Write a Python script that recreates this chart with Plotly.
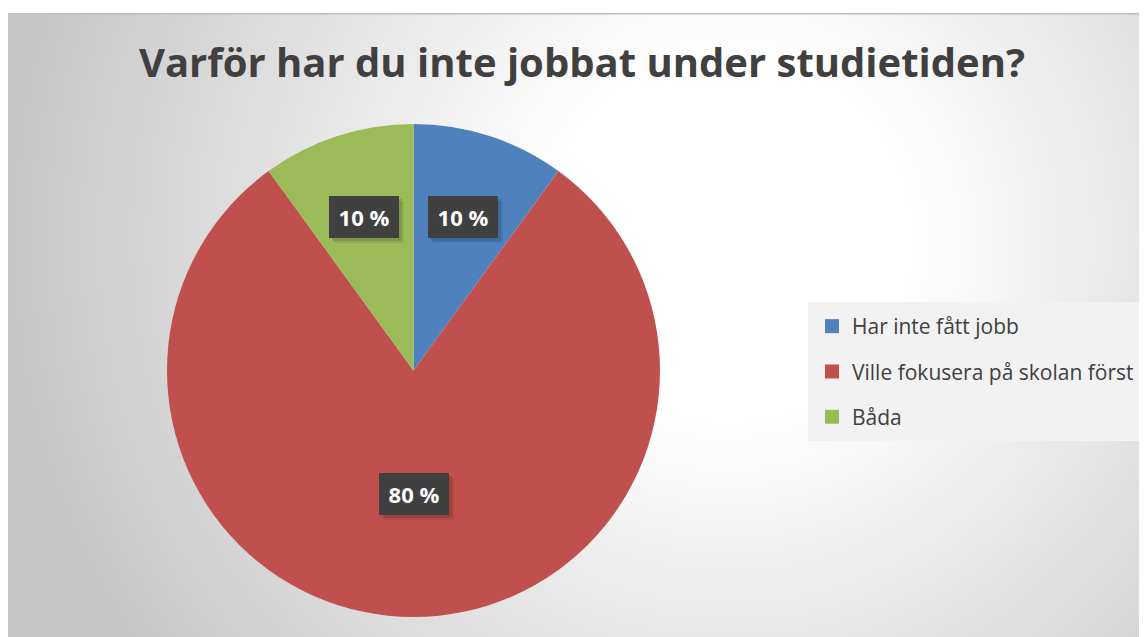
import base64
import math
import plotly.graph_objects as go

# ---- data ----
categories = ["Har inte fått jobb", "Ville fokusera på skolan först", "Båda"]
values = [10, 80, 10]
label_texts = ["10 %", "80 %", "10 %"]

# ---- styles ----
colors = ["#4f81bd", "#c0504d", "#9bbb59"]
label_radius = [0.655, 0.5, 0.655]
W, H = 1147, 637
OFF = 8  # page body margin


def px_x(X):
    return (X - OFF) / W


def px_y(Y):
    return 1 - (Y - OFF) / H


# pie geometry in screen pixels -> paper domain
pie_left, pie_right, pie_top, pie_bottom = 167, 660, 124, 617
dom_x = [px_x(pie_left), px_x(pie_right)]
dom_y = [px_y(pie_bottom), px_y(pie_top)]
cx_px = (pie_left + pie_right) / 2
cy_px = (pie_top + pie_bottom) / 2
R_px = min(pie_right - pie_left, pie_bottom - pie_top) / 2

# background gradient as svg data uri
BG_W, BG_H = W, H - 5
svg = f'''<svg xmlns="http://www.w3.org/2000/svg" width="{BG_W}" height="{BG_H}" viewBox="0 0 {BG_W} {BG_H}">
<defs><radialGradient id="g" gradientUnits="userSpaceOnUse" cx="720" cy="225" r="720">
<stop offset="0" stop-color="#ffffff"/>
<stop offset="0.25" stop-color="#ffffff"/>
<stop offset="1" stop-color="#c6c6c6"/>
</radialGradient></defs>
<rect x="0" y="0" width="{BG_W}" height="{BG_H}" fill="url(#g)"/>
<rect x="0" y="0" width="{BG_W}" height="1.5" fill="#bdbdbd"/>
</svg>'''
bg_src = "data:image/svg+xml;base64," + base64.b64encode(svg.encode()).decode()

fig = go.Figure()
fig.add_trace(go.Pie(
    labels=categories,
    values=values,
    sort=False,
    direction="clockwise",
    rotation=0,
    marker=dict(colors=colors, line=dict(width=0)),
    textinfo="none",
    showlegend=False,
    domain=dict(x=dom_x, y=dom_y),
    hoverinfo="label+percent",
))

# legend entries via dummy traces
for cat, col in zip(categories, colors):
    fig.add_trace(go.Scatter(
        x=[None], y=[None], mode="markers",
        marker=dict(symbol="square", size=14, color=col),
        name=cat, legendgroup=cat, showlegend=True,
    ))

# data labels computed from values
total = sum(values)
cum = 0
annotations = []
for v, txt, rf in zip(values, label_texts, label_radius):
    mid = (cum + v / 2) / total * 2 * math.pi
    cum += v
    x_px = cx_px + rf * R_px * math.sin(mid)
    y_px = cy_px - rf * R_px * math.cos(mid)
    # soft shadow
    for dx, alpha in ((5, 0.07), (3, 0.12)):
        annotations.append(dict(
            x=px_x(x_px + dx), y=px_y(y_px + dx), xref="paper", yref="paper",
            xanchor="center", yanchor="middle",
            text="", showarrow=False, width=70, height=42, borderpad=0,
            bgcolor=f"rgba(0,0,0,{alpha})", borderwidth=0,
        ))
    annotations.append(dict(
        x=px_x(x_px), y=px_y(y_px), xref="paper", yref="paper",
        xanchor="center", yanchor="middle",
        text=f"<b>{txt}</b>", showarrow=False,
        font=dict(family="Open Sans", size=22, color="#ffffff"),
        width=70, height=42, borderpad=0,
        bgcolor="#404040", borderwidth=0,
    ))

fig.update_layout(
    width=W, height=H,
    margin=dict(l=0, r=0, t=0, b=0),
    paper_bgcolor="#ffffff",
    plot_bgcolor="rgba(0,0,0,0)",
    xaxis=dict(visible=False),
    yaxis=dict(visible=False),
    title=dict(
        text="<b>Varför har du inte jobbat under studietiden?</b>",
        x=px_x(582), xanchor="center", y=px_y(63), yanchor="middle",
        font=dict(family="Open Sans", size=40, color="#404040"),
    ),
    legend=dict(
        x=px_x(808), y=px_y(302), xanchor="left", yanchor="top",
        bgcolor="#f2f2f2", bordercolor="#f2f2f2", borderwidth=4,
        font=dict(family="Open Sans", size=21, color="#404040"),
        traceorder="grouped", tracegroupgap=15,
    ),
    images=[dict(
        source=bg_src, xref="paper", yref="paper",
        x=0, y=px_y(13), sizex=BG_W / W, sizey=BG_H / H,
        xanchor="left", yanchor="top", sizing="stretch", layer="below",
    )],
    annotations=annotations,
)

fig.write_html("out.html")
